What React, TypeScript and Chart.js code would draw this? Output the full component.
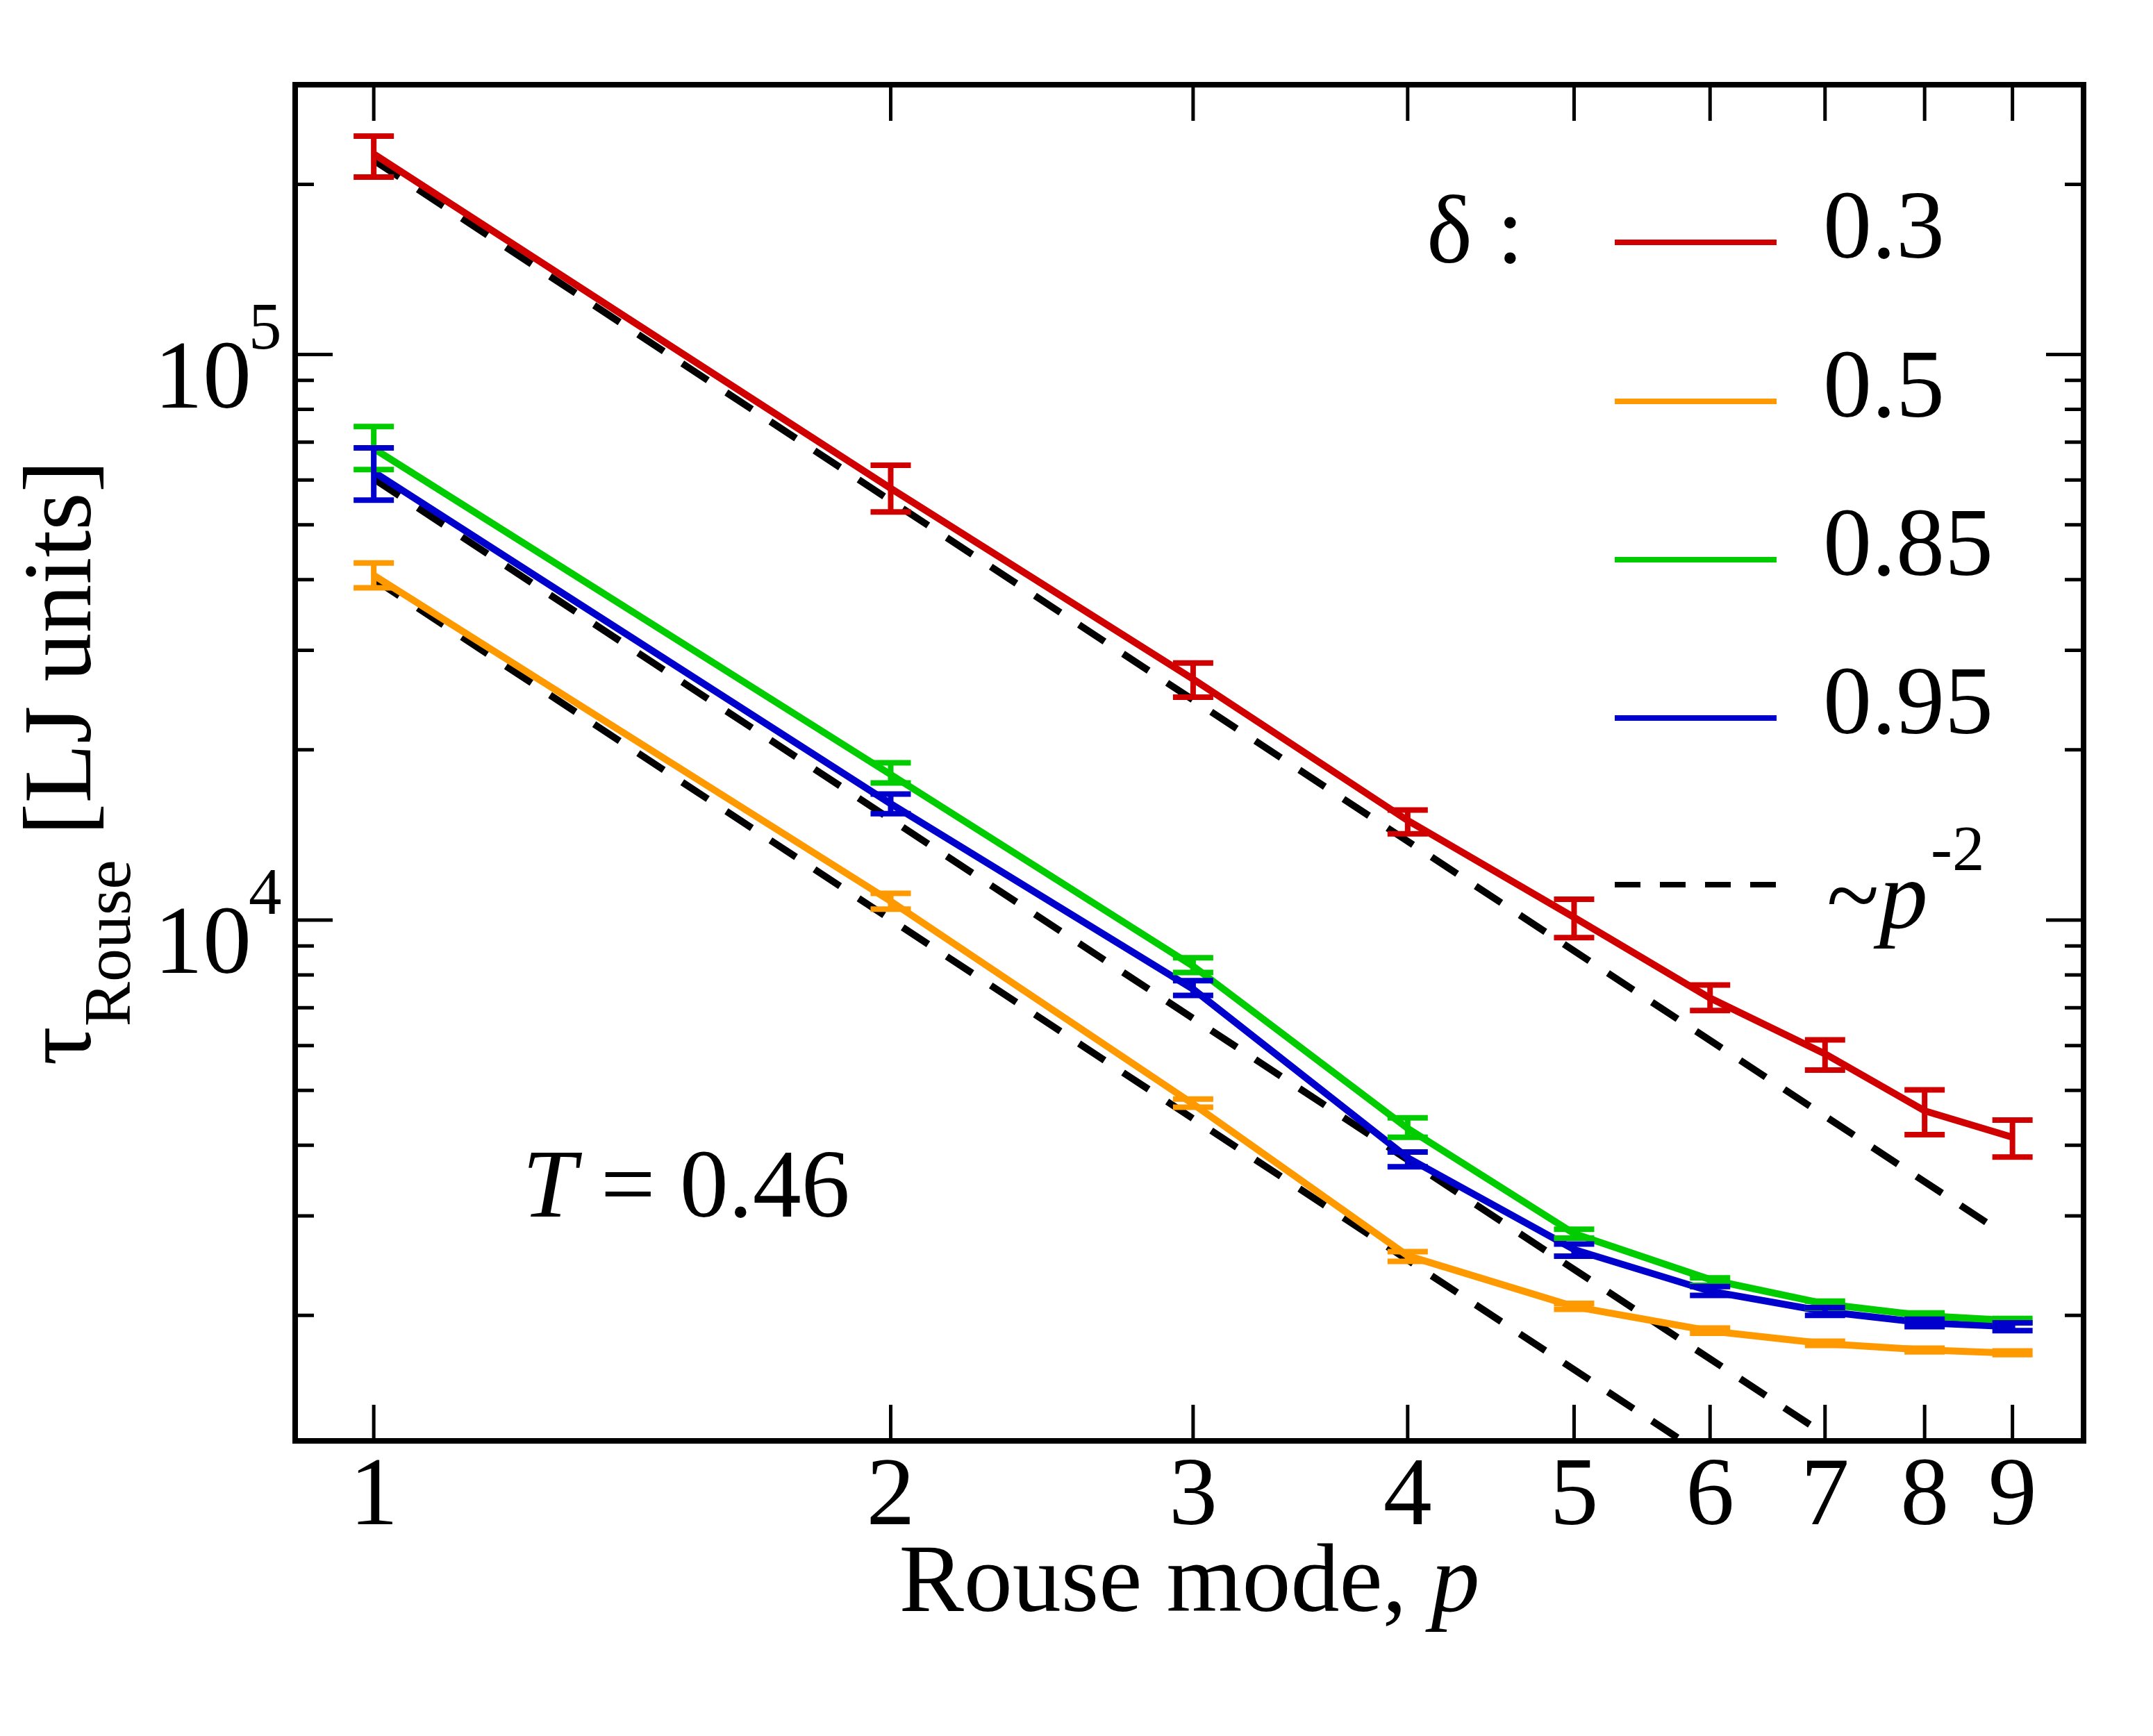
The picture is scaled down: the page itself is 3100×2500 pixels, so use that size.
import { useEffect, useRef } from 'react'
import Chart from 'chart.js/auto'

// Rouse mode index
const modes = [1, 2, 3, 4, 5, 6, 7, 8, 9]

// tau_Rouse per delta
const tau03 = [226300, 58000, 26680, 15000, 10110, 7280, 5800, 4600, 4130]
const tau05 = [40700, 10800, 4730, 2550, 2073, 1877, 1783, 1738, 1715]
const tau085 = [68200, 18090, 8290, 4283, 2790, 2315, 2096, 1998, 1959]
const tau095 = [62000, 16060, 7550, 3800, 2615, 2207, 2032, 1941, 1910]

// error bar ends (low / high)
const lo03 = [206000, 52700, 24780, 14210, 9310, 6920, 5430, 4175, 3810]
const hi03 = [243300, 63700, 28480, 15650, 10890, 7680, 6140, 5010, 4430]
const lo05 = [38700, 10460, 4667, 2492, 2050, 1860, 1770, 1725, 1705]
const hi05 = [42800, 11150, 4825, 2593, 2100, 1900, 1800, 1750, 1730]
const lo085 = [62600, 17480, 8080, 4130, 2740, 2260, 2060, 1975, 1945]
const hi085 = [74600, 18980, 8580, 4470, 2840, 2330, 2120, 2020, 1975]
const lo095 = [55300, 15430, 7360, 3664, 2545, 2170, 2000, 1910, 1880]
const hi095 = [68400, 16710, 7815, 3890, 2675, 2250, 2065, 1970, 1940]

// ~p^-2 guide lines (end points)
const guide1 = [{ x: 1, y: 220600 }, { x: 8.77, y: 2868 }]
const guide2 = [{ x: 1, y: 60300 }, { x: 7, y: 1231 }]
const guide3 = [{ x: 1, y: 40100 }, { x: 6, y: 1114 }]

const labels = ['0.3', '0.5', '0.85', '0.95']
const colors = ['#d00000', '#ff9900', '#00cc00', '#0000cc']

const xTicks = [1, 2, 3, 4, 5, 6, 7, 8, 9]
const yMajor = [10000, 100000]
const yMinor = [2000, 3000, 4000, 5000, 6000, 7000, 8000, 9000,
  20000, 30000, 40000, 50000, 60000, 70000, 80000, 90000, 200000]

const SERIF = '"Liberation Serif", "DejaVu Serif", serif'

const App = () => {
  const chartRef = useRef<any>(null)

  useEffect(() => {
    const ctx = chartRef.current.getContext('2d')
    const series = [tau03, tau05, tau085, tau095]
    const los = [lo03, lo05, lo085, lo095]
    const his = [hi03, hi05, hi085, hi095]

    const pts = (v: number[]) => v.map((y, i) => ({ x: modes[i], y }))

    const errorBars = {
      id: 'errorBars',
      afterDatasetsDraw(chart: any) {
        const c = chart.ctx
        const xs = chart.scales.x
        const ys = chart.scales.y
        const a = chart.chartArea
        c.save()
        c.beginPath()
        c.rect(a.left, a.top, a.right - a.left, a.bottom - a.top)
        c.clip()
        c.lineWidth = 8
        for (let s = 0; s < series.length; s++) {
          c.strokeStyle = colors[s]
          for (let i = 0; i < modes.length; i++) {
            const x = xs.getPixelForValue(modes[i])
            const y1 = ys.getPixelForValue(los[s][i])
            const y2 = ys.getPixelForValue(his[s][i])
            c.beginPath()
            c.moveTo(x, y1)
            c.lineTo(x, y2)
            c.moveTo(x - 29, y1)
            c.lineTo(x + 29, y1)
            c.moveTo(x - 29, y2)
            c.lineTo(x + 29, y2)
            c.stroke()
          }
        }
        c.restore()
      },
    }

    const frame = {
      id: 'frame',
      afterDraw(chart: any) {
        const c = chart.ctx
        const xs = chart.scales.x
        const ys = chart.scales.y
        const a = chart.chartArea
        c.save()
        c.strokeStyle = '#000'
        c.fillStyle = '#000'

        // ticks
        c.lineWidth = 5
        c.beginPath()
        xTicks.forEach((t) => {
          const x = xs.getPixelForValue(t)
          c.moveTo(x, a.bottom); c.lineTo(x, a.bottom - 52)
          c.moveTo(x, a.top); c.lineTo(x, a.top + 52)
        })
        yMajor.forEach((t) => {
          const y = ys.getPixelForValue(t)
          c.moveTo(a.left, y); c.lineTo(a.left + 54, y)
          c.moveTo(a.right, y); c.lineTo(a.right - 54, y)
        })
        yMinor.forEach((t) => {
          const y = ys.getPixelForValue(t)
          c.moveTo(a.left, y); c.lineTo(a.left + 27, y)
          c.moveTo(a.right, y); c.lineTo(a.right - 27, y)
        })
        c.stroke()

        // frame
        c.lineWidth = 8
        c.strokeRect(a.left, a.top, a.right - a.left, a.bottom - a.top)

        // x tick labels
        c.font = `140px ${SERIF}`
        c.textAlign = 'center'
        c.textBaseline = 'alphabetic'
        xTicks.forEach((t) => {
          c.fillText(String(t), xs.getPixelForValue(t), a.bottom + 120)
        })

        // y tick labels 10^n
        yMajor.forEach((t) => {
          const y = ys.getPixelForValue(t)
          c.font = `140px ${SERIF}`
          c.textAlign = 'right'
          c.fillText('10', 362, y + 76)
          c.font = `95px ${SERIF}`
          c.textAlign = 'left'
          c.fillText(String(Math.round(Math.log10(t))), 358, y - 9)
        })

        // x title
        c.textAlign = 'left'
        c.font = `140px ${SERIF}`
        const xt1 = 'Rouse mode, '
        const w1 = c.measureText(xt1).width
        c.font = `italic 140px ${SERIF}`
        const w2 = c.measureText('p').width
        const xc = (a.left + a.right) / 2
        const x0 = xc - (w1 + w2) / 2
        c.font = `140px ${SERIF}`
        c.fillText(xt1, x0, 2320)
        c.font = `italic 140px ${SERIF}`
        c.fillText('p', x0 + w1, 2320)

        // y title
        c.save()
        c.translate(130, (a.top + a.bottom) / 2)
        c.rotate(-Math.PI / 2)
        c.font = `140px ${SERIF}`
        const tw = c.measureText('τ').width
        const rest = ' [LJ units]'
        const rw = c.measureText(rest).width
        c.font = `96px ${SERIF}`
        const sw = c.measureText('Rouse').width
        let px = -(tw + sw + rw) / 2
        c.font = `140px ${SERIF}`
        c.fillText('τ', px, 0)
        px += tw
        c.font = `96px ${SERIF}`
        c.fillText('Rouse', px, 57)
        px += sw
        c.font = `140px ${SERIF}`
        c.fillText(rest, px, 0)
        c.restore()

        // T = 0.46
        c.font = `italic 140px ${SERIF}`
        c.fillText('T', 752, 1752)
        const tW = c.measureText('T').width
        c.font = `140px ${SERIF}`
        c.fillText(' = 0.46', 752 + tW, 1752)

        // legend
        c.font = `140px ${SERIF}`
        c.fillText('δ :', 2054, 378)
        const rowY = [349, 578, 806, 1034]
        c.lineWidth = 8
        rowY.forEach((y, i) => {
          c.strokeStyle = colors[i]
          c.beginPath()
          c.moveTo(2325, y)
          c.lineTo(2558, y)
          c.stroke()
          c.fillText(labels[i], 2625, y + 22)
        })
        c.strokeStyle = '#000'
        c.setLineDash([37, 28])
        c.beginPath()
        c.moveTo(2325, 1274)
        c.lineTo(2558, 1274)
        c.stroke()
        c.setLineDash([])
        c.font = `140px ${SERIF}`
        c.fillText('~', 2630, 1336)
        const tl = c.measureText('~').width
        c.font = `italic 140px ${SERIF}`
        c.fillText('p', 2630 + tl, 1336)
        c.font = `93px ${SERIF}`
        c.fillText('-2', 2780, 1253)

        c.restore()
      },
    }

    const chart = new Chart(ctx, {
      type: 'line',
      data: {
        datasets: [
          ...series.map((v, i) => ({
            label: labels[i],
            data: pts(v),
            borderColor: colors[i],
            borderWidth: 10,
            pointRadius: 0,
            tension: 0,
            fill: false,
          })),
          ...[guide1, guide2, guide3].map((g) => ({
            label: 'p^-2',
            data: g,
            borderColor: '#000',
            borderWidth: 10,
            borderDash: [44, 32],
            pointRadius: 0,
            tension: 0,
            fill: false,
          })),
        ],
      },
      options: {
        responsive: false,
        devicePixelRatio: 1,
        animation: false,
        layout: { padding: { left: 425, right: 100, top: 122, bottom: 425 } },
        plugins: { legend: { display: false }, tooltip: { enabled: false } },
        scales: {
          x: { type: 'logarithmic', min: 0.9, max: 9.9, display: false },
          y: { type: 'logarithmic', min: 1200, max: 300000, display: false },
        },
      },
      plugins: [errorBars, frame],
    } as any)

    return () => chart.destroy()
  }, [])

  return (
    <div style={{ position: 'absolute', left: 0, top: 0, width: 3100, height: 2500, background: '#fff' }}>
      <canvas ref={chartRef} width={3100} height={2500} style={{ display: 'block' }}></canvas>
    </div>
  )
}

export default App
